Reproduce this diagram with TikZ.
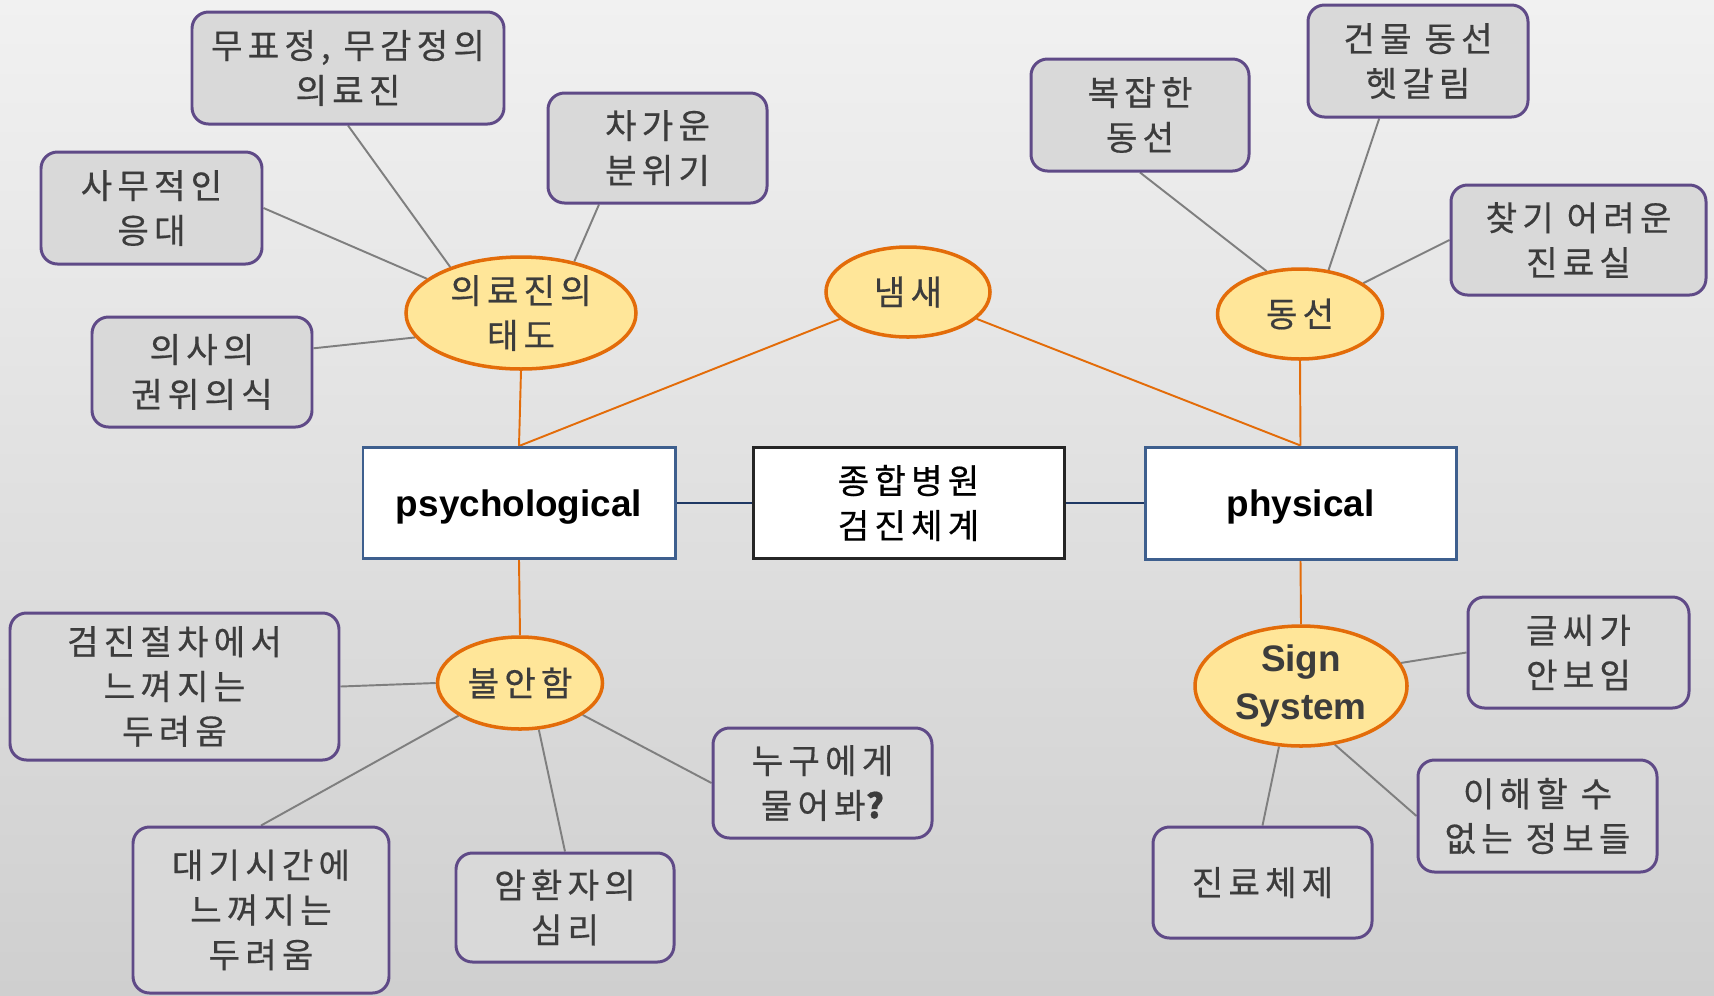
\documentclass[tikz,border=0pt]{standalone}
\usepackage{fontspec}
\setmainfont{Noto Sans CJK KR}[LetterSpace=15, FakeBold=0.5]
\newfontfamily\latinfont{Liberation Sans}
\usetikzlibrary{shapes.geometric}

\definecolor{bgtop}{HTML}{F1F1F1}
\definecolor{bgbot}{HTML}{CFCFCF}
\definecolor{leaffill}{HTML}{D9D9D9}
\definecolor{leafedge}{HTML}{5F4A87}
\definecolor{inktext}{HTML}{3C3C3C}
\definecolor{hubfill}{HTML}{FFE699}
\definecolor{hubedge}{HTML}{E36C09}
\definecolor{mainedge}{HTML}{3E5F8E}
\definecolor{navyline}{HTML}{1F3864}
\definecolor{twig}{HTML}{7F7F7F}

\pgfdeclarelayer{bg}
\pgfdeclarelayer{edges}
\pgfsetlayers{bg,edges,main}

\tikzset{
  size/.style 2 args={minimum width=#1*0.02cm, minimum height=#2*0.02cm},
  korean/.style={font=\fontsize{19.5}{25.5}\selectfont},
  leaf/.style={draw=leafedge, line width=1.7pt, fill=leaffill, rounded corners=0.33cm,
    text=inktext, align=center, inner sep=0pt, korean},
  hub/.style={ellipse, draw=hubedge, line width=2pt, fill=hubfill,
    text=inktext, align=center, inner sep=0pt, korean},
  core/.style={draw=black!85, line width=1.7pt, fill=white, align=center, inner sep=0pt,
    text=black, korean},
  branch/.style={draw=mainedge, line width=1.7pt, fill=white, align=center, inner sep=0pt,
    text=black, text depth=0pt, font=\latinfont\bfseries\fontsize{21}{26}\selectfont},
  twigline/.style={draw=twig, line width=1.1pt},
  hubline/.style={draw=hubedge, line width=1.1pt},
  coreline/.style={draw=navyline, line width=1.6pt},
}

\begin{document}
\begin{tikzpicture}[x=0.02cm, y=-0.02cm]
\begin{pgfonlayer}{bg}
  \shade[top color=bgtop, bottom color=bgbot] (0,0) rectangle (1714,995);
\end{pgfonlayer}
\useasboundingbox (0,0) rectangle (1714,995);

% central and branch boxes
\node[core, size={311}{111}] (core) at (908.5,503) {종합병원\\검진체계};
\node[branch, size={312}{111}] (psy) at (519,503) {psychological};
\node[branch, size={311}{112}] (phy) at (1300.5,503) {physical};

% themes
\node[hub, size={230}{112}] (att) at (521,313) {의료진의\\태도};
\node[hub, size={164}{90}] (smell) at (908,292) {냄새};
\node[hub, size={165}{90}] (route) at (1300,314) {동선};
\node[hub, size={165}{92}] (anx) at (520,683) {불안함};
\node[hub, size={212}{120}, font=\latinfont\bfseries\fontsize{21}{27}\selectfont] (sign) at (1301,686) {Sign\\System};

% details
\node[leaf, size={312}{112}] (blank) at (348,68) {무표정, 무감정의\\의료진};
\node[leaf, size={221}{112}] (office) at (151.5,208) {사무적인\\응대};
\node[leaf, size={219}{110}] (cold) at (657.5,148) {차가운\\분위기};
\node[leaf, size={220}{110}] (auth) at (202,372) {의사의\\권위의식};
\node[leaf, size={218}{112}] (complex) at (1140,115) {복잡한\\동선};
\node[leaf, size={220}{112}] (confuse) at (1418,61) {건물 동선\\헷갈림};
\node[leaf, size={255}{110}] (hardfind) at (1578.5,240) {찾기 어려운\\진료실};
\node[leaf, size={329}{147}] (procfear) at (174.5,686.5) {검진절차에서\\느껴지는\\두려움};
\node[leaf, size={256}{166}] (waitfear) at (261,910) {대기시간에\\느껴지는\\두려움};
\node[leaf, size={218}{109}] (cancer) at (565,907.5) {암환자의\\심리};
\node[leaf, size={219}{110}] (whom) at (822.5,783) {누구에게\\물어봐{\bfseries ?}};
\node[leaf, size={221}{111}] (letters) at (1578.5,652.5) {글씨가\\안보임};
\node[leaf, size={239}{112}] (unclear) at (1537.5,816) {이해할 수\\없는 정보들};
\node[leaf, size={219}{111}] (system) at (1262.5,882.5) {진료체제};

\begin{pgfonlayer}{edges}
  \draw[coreline] (psy.east) -- (core.west);
  \draw[coreline] (core.east) -- (phy.west);

  \draw[hubline] (att.south) -- (psy.north);
  \draw[hubline] (smell) -- (psy.north);
  \draw[hubline] (smell) -- (phy.north);
  \draw[hubline] (route.south) -- (phy.north);
  \draw[hubline] (psy.south) -- (anx.north);
  \draw[hubline] (phy.south) -- (sign.north);

  \draw[twigline] (blank.south) -- (att.147);
  \draw[twigline] (office.east) -- (att.160);
  \draw[twigline] (cold.224) -- (att.44);
  \draw[twigline] (auth.12) -- (att.193);
  \draw[twigline] (complex.south) -- (route.128);
  \draw[twigline] (confuse.236) -- (route.57);
  \draw[twigline] (hardfind.west) -- (route.26);
  \draw[twigline] (procfear.east) -- (anx.west);
  \draw[twigline] (waitfear.north) -- (anx.208);
  \draw[twigline] (cancer.north) -- (anx.292);
  \draw[twigline] (whom.west) -- (anx.333);
  \draw[twigline] (letters.west) -- (sign.13);
  \draw[twigline] (unclear.west) -- (sign.300);
  \draw[twigline] (system.north) -- (sign.250);
\end{pgfonlayer}
\end{tikzpicture}
\end{document}
